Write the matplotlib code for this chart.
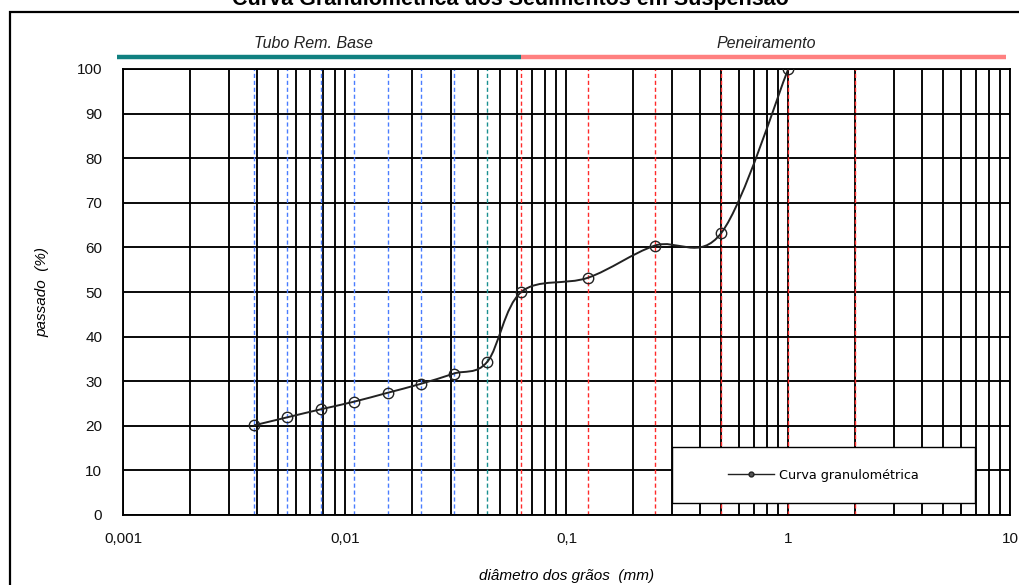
import matplotlib
matplotlib.use("Agg")
import matplotlib.pyplot as plt
import matplotlib.ticker as mticker
import matplotlib.transforms as mtrans
from matplotlib.path import Path
from matplotlib.patches import PathPatch, Rectangle
from matplotlib.lines import Line2D
import numpy as np

# data
diametro = [0.0039, 0.0055, 0.0078, 0.011, 0.0156, 0.022, 0.031, 0.044,
            0.0625, 0.125, 0.25, 0.5, 1.0]
passado = [20.1, 21.9, 23.7, 25.4, 27.4, 29.4, 31.7, 34.4,
           50.0, 53.2, 60.4, 63.3, 100.0]
linhas_tubo = [0.0039, 0.0055, 0.0078, 0.011, 0.0156, 0.022, 0.031]
linha_limite = [0.044]
linhas_peneira = [0.0625, 0.125, 0.25, 0.5, 1.0, 2.0]
xtick_vals = [0.001, 0.01, 0.1, 1, 10]
xtick_labels = ["0,001", "0,01", "0,1", "1", "10"]
ytick_vals = [0, 10, 20, 30, 40, 50, 60, 70, 80, 90, 100]

plt.rcParams["font.family"] = ["Liberation Sans", "DejaVu Sans"]

fig = plt.figure(figsize=(10.2, 5.85), dpi=100)
ax = fig.add_axes([123 / 1020, 70 / 585, 887 / 1020, 446 / 585])

ax.set_xscale("log")
ax.set_xlim(0.001, 10)
ax.set_ylim(0, 100)

# grid like excel
ax.xaxis.set_major_locator(mticker.FixedLocator(xtick_vals))
ax.xaxis.set_minor_locator(mticker.LogLocator(base=10, subs=np.arange(2, 10)))
ax.xaxis.set_minor_formatter(mticker.NullFormatter())
ax.set_xticklabels(xtick_labels)
ax.set_yticks(ytick_vals)
ax.grid(True, which="both", color="black", lw=1.35, zorder=1)
ax.set_axisbelow(True)
ax.tick_params(which="both", length=0, labelsize=11, colors="#111111")
ax.tick_params(axis="y", pad=15)
ax.tick_params(axis="x", pad=12)
for s in ax.spines.values():
    s.set_color("black")
    s.set_linewidth(1.35)

for xv in linhas_tubo:
    ax.axvline(xv, color="#4a7dff", lw=1.0, ls=(0, (3, 2)), zorder=2)
for xv in linha_limite:
    ax.axvline(xv, color="#1a9090", lw=1.0, ls=(0, (3, 2)), zorder=2)
for xv in linhas_peneira:
    ax.axvline(xv, color="#ff2a2a", lw=1.0, ls=(0, (3, 2)), zorder=2)

# smoothed line (excel style bezier through the points)
lx = np.log10(diametro)
py = np.array(passado)
pts = np.column_stack([lx, py])
verts = [pts[0]]
codes = [Path.MOVETO]
n = len(pts)
for i in range(n - 1):
    p0 = pts[i - 1] if i > 0 else pts[i]
    p1 = pts[i]
    p2 = pts[i + 1]
    p3 = pts[i + 2] if i + 2 < n else pts[i + 1]
    c1 = p1 + (p2 - p0) / 6.0
    c2 = p2 - (p3 - p1) / 6.0
    verts += [c1, c2, p2]
    codes += [Path.CURVE4] * 3
verts = np.array(verts)
verts[:, 0] = 10 ** verts[:, 0]
ax.add_patch(PathPatch(Path(verts, codes), fc="none", ec="#222222", lw=1.4, zorder=4))
ax.plot(diametro, passado, ls="none", marker="o", ms=7.5, mfc="none",
        mec="#222222", mew=1.0, zorder=5)

# legend box
ax.add_patch(Rectangle((0.619, 0.027), 0.341, 0.125, transform=ax.transAxes,
                       fc="white", ec="black", lw=1.0, zorder=6))
h = Line2D([], [], color="#222222", lw=1.0, marker="o", ms=3.5, mfc="#555555",
           mec="#222222")
leg = ax.legend([h], ["Curva granulométrica"], loc="center",
                bbox_to_anchor=(0.619, 0.027, 0.341, 0.125), frameon=False,
                prop={"family": "DejaVu Sans", "size": 9.2},
                handlelength=3.6, handletextpad=0.4)
leg.set_zorder(7)

# range bars above the plot
trans = mtrans.blended_transform_factory(ax.transData, ax.transAxes)
ax.plot([0.00094, 0.0625], [1.026, 1.026], transform=trans, color="#108080",
        lw=3.2, clip_on=False, solid_capstyle="butt")
ax.plot([0.0625, 9.6], [1.026, 1.026], transform=trans, color="#ff8080",
        lw=3.2, clip_on=False, solid_capstyle="butt")
ax.text(10 ** -2.14, 1.058, "Tubo Rem. Base", transform=trans, ha="center",
        va="center", style="italic", fontsize=11.5, color="#222222")
ax.text(10 ** -0.1, 1.058, "Peneiramento", transform=trans, ha="center",
        va="center", style="italic", fontsize=11.5, color="#222222")

ax.set_ylabel("passado  (%)", style="italic", fontsize=11, labelpad=20)
ax.set_xlabel("diâmetro dos grãos  (mm)", style="italic", fontsize=11, labelpad=17)

# outer chart frame and clipped title
fig.add_artist(Rectangle((10 / 1020, -0.2), 1.2, 1.2 - 12 / 585,
                         transform=fig.transFigure, fc="none", ec="black", lw=1.6))
fig.text(0.5, 1 - 5 / 585, "Curva Granulométrica dos Sedimentos em Suspensão",
         ha="center", va="baseline", fontsize=15.5, fontweight="bold")

fig.savefig("out.png", dpi=100)
